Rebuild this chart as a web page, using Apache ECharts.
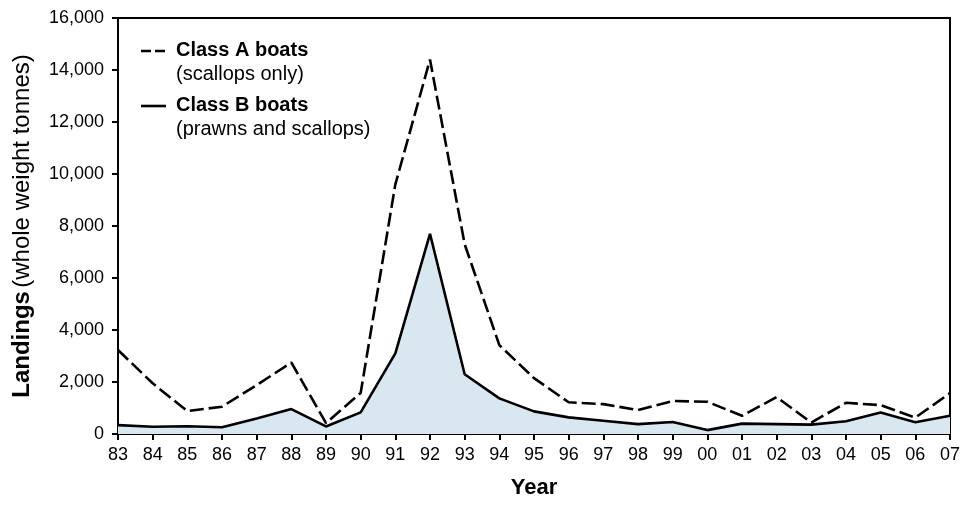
<!DOCTYPE html>
<html>
<head>
<meta charset="utf-8">
<script src="https://cdn.jsdelivr.net/npm/echarts@6/dist/echarts.min.js"></script>
<style>html,body{margin:0;padding:0;background:#fff;}#c{width:963px;height:505px;}</style>
</head>
<body>
<div id="c"></div>
<script>
const years = ['83','84','85','86','87','88','89','90','91','92','93','94','95','96','97','98','99','00','01','02','03','04','05','06','07'];
const classA = [3230,1950,880,1050,1880,2750,420,1580,9600,14400,7300,3420,2150,1220,1150,920,1270,1240,700,1420,440,1200,1110,630,1570];
const classB = [340,280,300,260,600,960,290,830,3100,7700,2300,1370,870,640,510,380,460,150,400,380,360,490,830,450,700];
const yTicks = [0,2000,4000,6000,8000,10000,12000,14000,16000];

const font = '"Liberation Sans", Arial, sans-serif';
const chart = echarts.init(document.getElementById('c'), null, {renderer:'canvas'});
chart.setOption({
  animation:false,
  backgroundColor:'#fff',
  textStyle:{fontFamily:font},
  grid:{left:118,right:11,top:18,bottom:71,show:true,borderColor:'#000',borderWidth:2,backgroundColor:'transparent'},
  xAxis:{
    type:'category', data:years, boundaryGap:false,
    axisLine:{lineStyle:{color:'#000',width:2}},
    axisTick:{show:true,alignWithLabel:true,length:6,lineStyle:{color:'#000',width:2}},
    axisLabel:{color:'#000',fontSize:18,fontFamily:font,margin:12,interval:0},
    name:'Year', nameLocation:'middle', nameGap:43,
    nameTextStyle:{color:'#000',fontSize:22,fontWeight:'bold',fontFamily:font,verticalAlign:'top',padding:[0,0,0,0]}
  },
  yAxis:{
    type:'value', min:yTicks[0], max:yTicks[yTicks.length-1], interval:2000,
    axisLine:{show:true,lineStyle:{color:'#000',width:2}},
    axisTick:{show:true,length:6,lineStyle:{color:'#000',width:2}},
    splitLine:{show:false},
    axisLabel:{color:'#000',fontSize:18,fontFamily:font,margin:14,
      formatter:v=>v.toLocaleString('en-US')},
    name:'{b|Landings} {n|(whole weight tonnes)}', nameLocation:'middle', nameGap:84, nameRotate:90,
    nameTextStyle:{color:'#000',fontFamily:font,
      rich:{b:{fontSize:24,fontWeight:'bold',color:'#000',fontFamily:font},
            n:{fontSize:24,color:'#000',fontFamily:font}}}
  },
  series:[
    {name:'Class A boats', type:'line', data:classA, showSymbol:false, symbol:'none', z:3,
     lineStyle:{color:'#000',width:2.6,type:[14,5]}},
    {name:'Class B boats', type:'line', data:classB, showSymbol:false, symbol:'none', z:2,
     lineStyle:{color:'#000',width:2.6},
     areaStyle:{color:'#d8e7f0',opacity:1}}
  ],
  graphic:[
    {type:'line', shape:{x1:141,y1:51,x2:166,y2:51}, style:{stroke:'#000',lineWidth:2.6,lineDash:[10,4]}},
    {type:'text', left:176, top:40, style:{text:'Class A boats',font:'bold 20px '+font,fill:'#000'}},
    {type:'text', left:176, top:64, style:{text:'(scallops only)',font:'20px '+font,fill:'#000'}},
    {type:'line', shape:{x1:141,y1:106,x2:166,y2:106}, style:{stroke:'#000',lineWidth:2.6}},
    {type:'text', left:176, top:95, style:{text:'Class B boats',font:'bold 20px '+font,fill:'#000'}},
    {type:'text', left:176, top:119, style:{text:'(prawns and scallops)',font:'20px '+font,fill:'#000'}}
  ]
});
</script>
</body>
</html>
